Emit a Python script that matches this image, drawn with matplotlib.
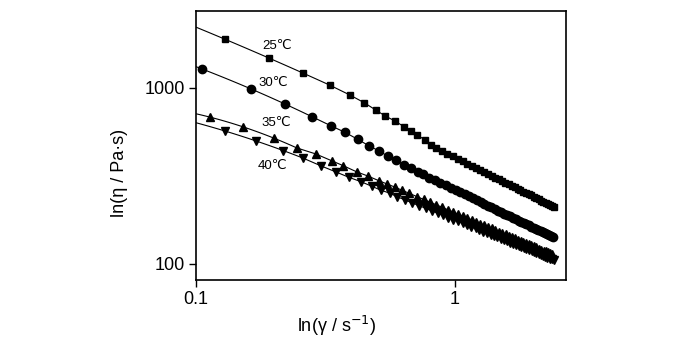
import numpy as np
import matplotlib
matplotlib.use("Agg")
import matplotlib.pyplot as plt
from matplotlib.ticker import FixedLocator, NullLocator, FixedFormatter

plt.rcParams['font.family'] = ['Liberation Sans', 'DejaVu Sans']

# shear rate (1/s) and viscosity (Pa s)
x25 = [0.129, 0.191, 0.259, 0.329, 0.393, 0.446, 0.494, 0.538, 0.587, 0.635,
       0.675, 0.715, 0.765, 0.806, 0.845, 0.89, 0.935, 0.98, 1.025, 1.07,
       1.115, 1.16, 1.205, 1.25, 1.295, 1.34, 1.385, 1.43, 1.475, 1.52,
       1.565, 1.61, 1.655, 1.70, 1.745, 1.79, 1.835, 1.88, 1.925, 1.97,
       2.015, 2.06, 2.105, 2.15, 2.195, 2.24, 2.285, 2.33, 2.375, 2.41]
y25 = [1897, 1479, 1217, 1036, 912, 825, 750, 693, 649, 603,
       570, 541, 507, 477, 456, 439, 423, 409, 396, 383,
       372, 361, 351, 342, 333, 325, 317, 310, 303, 296,
       290, 284, 278, 273, 267, 262, 258, 253, 249, 245,
       241, 237, 233, 229, 226, 223, 219, 216, 213, 211]

x30 = [0.1055, 0.163, 0.221, 0.280, 0.331, 0.376, 0.421, 0.467, 0.507, 0.549,
       0.591, 0.637, 0.676, 0.717, 0.755, 0.796, 0.837, 0.879, 0.921, 0.963,
       1.005, 1.047, 1.089, 1.131, 1.173, 1.215, 1.257, 1.299, 1.341, 1.383,
       1.425, 1.467, 1.509, 1.551, 1.593, 1.635, 1.677, 1.719, 1.761, 1.803,
       1.845, 1.887, 1.929, 1.971, 2.013, 2.055, 2.097, 2.139, 2.181, 2.223,
       2.265, 2.307, 2.349, 2.391]
y30 = [1283, 987, 811, 687, 611, 560, 511, 468, 440, 411,
       390, 365, 350, 334, 323, 310, 300, 289.6, 280.2, 271.5,
       263.3, 255.7, 248.6, 242.0, 235.8, 230.0, 224.5, 219.3, 214.4, 209.8,
       205.4, 201.2, 197.2, 193.4, 189.7, 186.2, 182.8, 179.6, 176.6, 173.6,
       170.8, 168.1, 165.5, 163.0, 160.6, 158.2, 156.0, 153.8, 151.6, 149.6,
       147.6, 145.7, 143.9, 142.0]

x35 = [0.113, 0.152, 0.200, 0.245, 0.290, 0.334, 0.370, 0.417, 0.461, 0.509,
       0.546, 0.584, 0.622, 0.667, 0.712, 0.757, 0.802, 0.847, 0.892, 0.937,
       0.982, 1.027, 1.072, 1.117, 1.162, 1.207, 1.252, 1.297, 1.342, 1.387,
       1.432, 1.477, 1.522, 1.567, 1.612, 1.657, 1.702, 1.747, 1.792, 1.837,
       1.882, 1.927, 1.972, 2.017, 2.062, 2.107, 2.152, 2.197, 2.242, 2.287,
       2.332, 2.377]
y35 = [684, 600, 520, 456, 422, 386, 362, 334, 316, 297,
       285, 274, 263, 251.8, 241.6, 232.6, 224.3, 216.8, 209.9, 203.4,
       197.6, 192.0, 187.0, 182.3, 177.8, 173.6, 169.7, 166.0, 162.4, 159.1,
       156.0, 152.9, 150.1, 147.4, 144.8, 142.3, 139.9, 137.7, 135.5, 133.4,
       131.4, 129.5, 127.6, 125.8, 124.1, 122.4, 120.8, 119.2, 117.8, 116.3,
       114.9, 113.5]

x40 = [0.129, 0.170, 0.216, 0.259, 0.305, 0.346, 0.389, 0.432, 0.476, 0.516,
       0.562, 0.598, 0.641, 0.684, 0.727, 0.770, 0.813, 0.856, 0.899, 0.942,
       0.985, 1.028, 1.071, 1.114, 1.157, 1.200, 1.243, 1.286, 1.329, 1.372,
       1.415, 1.458, 1.501, 1.544, 1.587, 1.630, 1.673, 1.716, 1.759, 1.802,
       1.845, 1.888, 1.931, 1.974, 2.017, 2.060, 2.103, 2.146, 2.189, 2.232,
       2.275, 2.318, 2.361, 2.404]
y40 = [570, 502, 441, 400, 360, 334, 311, 294, 277, 263,
       252, 241, 231.2, 222.4, 214.5, 207.3, 200.6, 194.5, 188.9, 183.7,
       178.9, 174.4, 170.2, 166.3, 162.6, 159.1, 155.8, 152.6, 149.6, 146.8,
       144.1, 141.6, 139.1, 136.8, 134.6, 132.4, 130.4, 128.5, 126.6, 124.7,
       123.0, 121.3, 119.7, 118.2, 116.6, 115.2, 113.8, 112.4, 111.1, 109.8,
       108.5, 107.3, 106.2, 105.0]

labels = ['25\u2103', '30\u2103', '35\u2103', '40\u2103']
markers = ['s', 'o', '^', 'v']
msizes = [5, 6, 6, 6]
label_pos = [(0.2055, 1733), (0.198, 1067), (0.204, 632), (0.197, 360)]

fig = plt.figure(figsize=(7, 3.4), dpi=100)
ax = fig.add_axes([0.28, 0.1765, 0.5286, 0.7911])

series = [(x25, y25), (x30, y30), (x35, y35), (x40, y40)]
for (xs, ys), m, ms in zip(series, markers, msizes):
    lx, ly = np.log10(xs), np.log10(ys)
    # curve through the points, carried back to the left axis edge
    c = np.polyfit(lx[:4], ly[:4], 2)
    xe = np.linspace(-1, lx[3], 30)
    lx_line = np.concatenate([xe, lx[4:]])
    ly_line = np.concatenate([np.polyval(c, xe), ly[4:]])
    ax.plot(10 ** lx_line, 10 ** ly_line, color='black', lw=0.8, zorder=2)
    ax.plot(xs, ys, linestyle='none', marker=m, ms=ms, color='black', zorder=3)

for t, (tx, ty) in zip(labels, label_pos):
    ax.text(tx, ty, t, fontsize=9.5, ha='center', va='center')

ax.set_xscale('log')
ax.set_yscale('log')
ax.set_xlim(0.1, 2.683)
ax.set_ylim(81.1, 2738)

ax.xaxis.set_major_locator(FixedLocator([0.1, 1]))
ax.xaxis.set_major_formatter(FixedFormatter(['0.1', '1']))
ax.xaxis.set_minor_locator(NullLocator())
ax.yaxis.set_major_locator(FixedLocator([100, 1000]))
ax.yaxis.set_major_formatter(FixedFormatter(['100', '1000']))
ax.yaxis.set_minor_locator(NullLocator())
ax.tick_params(direction='out', length=5, width=1.0, labelsize=13, pad=3)
for s in ax.spines.values():
    s.set_linewidth(1.2)

ax.set_xlabel('ln(\u03b3 / s$^{-1}$)', fontsize=13, va='center')
ax.set_ylabel('ln(\u03b7 / Pa\u00b7s)', fontsize=13, va='center')
ax.xaxis.set_label_coords(0.381, -0.172)
ax.yaxis.set_label_coords(-0.208, 0.398)

fig.savefig('out.png', dpi=100)
